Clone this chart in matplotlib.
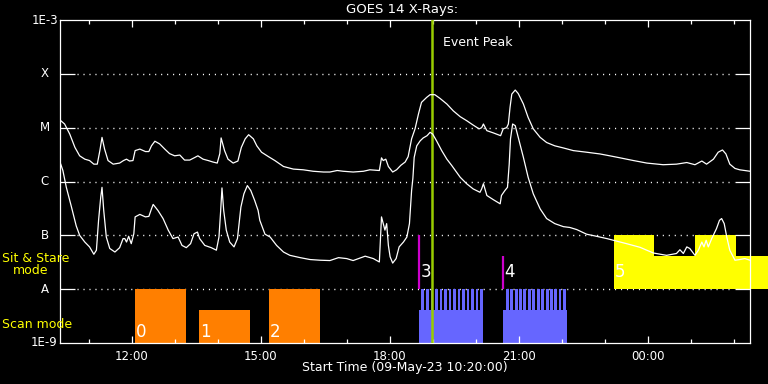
import matplotlib
matplotlib.use('Agg')
import matplotlib.pyplot as plt
from matplotlib import transforms
from matplotlib.ticker import FixedLocator, NullLocator

# time axis in hours since 09-May-23 00:00 (values > 24 are next day)
upper_t = [10.35, 10.44, 10.56, 10.68, 10.79, 10.91, 11.02, 11.12, 11.20, 11.26,
           11.31, 11.37, 11.45, 11.57, 11.72, 11.81, 11.88, 11.95, 12.03, 12.08,
           12.19, 12.32, 12.40, 12.46, 12.54, 12.65, 12.77, 12.88, 13.00, 13.12,
           13.23, 13.35, 13.47, 13.54, 13.66, 13.78, 13.89, 13.99, 14.05, 14.08,
           14.16, 14.24, 14.36, 14.47, 14.55, 14.64, 14.72, 14.83, 14.91, 15.02,
           15.18, 15.33, 15.53, 15.76, 15.99, 16.22, 16.46, 16.61, 16.78, 16.92,
           17.15, 17.39, 17.54, 17.76, 17.81, 17.85, 17.91, 17.97, 18.07, 18.16,
           18.26, 18.36, 18.43, 18.51, 18.59, 18.67, 18.74, 18.86, 18.94, 19.05,
           19.17, 19.33, 19.48, 19.64, 19.79, 19.94, 20.08, 20.14, 20.18, 20.26,
           20.41, 20.58, 20.64, 20.72, 20.76, 20.80, 20.84, 20.92, 20.99, 21.11,
           21.22, 21.34, 21.50, 21.65, 21.84, 22.04, 22.27, 22.58, 22.89, 23.12,
           23.36, 23.67, 23.98, 24.36, 24.67, 24.91, 25.10, 25.26, 25.37, 25.53,
           25.64, 25.74, 25.82, 25.91, 26.03, 26.14, 26.38]
upper_flux = [1.35e-5, 1.17e-5, 7.6e-6, 4.3e-6, 3.0e-6, 2.6e-6, 2.45e-6, 2.1e-6, 2.1e-6, 3.75e-6,
              6.6e-6, 4.0e-6, 2.45e-6, 2.1e-6, 2.2e-6, 2.45e-6, 2.6e-6, 2.4e-6, 2.45e-6, 3.75e-6,
              4.0e-6, 3.6e-6, 3.6e-6, 4.6e-6, 5.6e-6, 5.0e-6, 4.0e-6, 3.3e-6, 3.0e-6, 3.1e-6,
              2.5e-6, 2.5e-6, 2.8e-6, 3.0e-6, 2.6e-6, 2.45e-6, 2.3e-6, 2.2e-6, 3.3e-6, 6.45e-6,
              3.75e-6, 2.6e-6, 2.2e-6, 2.4e-6, 4.3e-6, 6.2e-6, 7.4e-6, 6.2e-6, 4.6e-6, 3.5e-6,
              2.9e-6, 2.45e-6, 1.9e-6, 1.7e-6, 1.65e-6, 1.55e-6, 1.5e-6, 1.5e-6, 1.6e-6, 1.55e-6,
              1.5e-6, 1.55e-6, 1.65e-6, 1.6e-6, 2.75e-6, 2.45e-6, 2.6e-6, 1.9e-6, 1.5e-6, 1.65e-6,
              2.0e-6, 2.3e-6, 2.9e-6, 6.2e-6, 9.5e-6, 1.8e-5, 2.95e-5, 3.65e-5, 4.1e-5, 4.1e-5,
              3.5e-5, 2.75e-5, 2.05e-5, 1.6e-5, 1.35e-5, 1.12e-5, 9.5e-6, 1.0e-5, 1.17e-5, 8.8e-6,
              8.0e-6, 7.1e-6, 9.5e-6, 1.0e-5, 1.17e-5, 2.4e-5, 4.2e-5, 5.0e-5, 4.3e-5, 2.75e-5,
              1.55e-5, 9.5e-6, 6.6e-6, 5.3e-6, 4.6e-6, 4.2e-6, 3.75e-6, 3.5e-6, 3.25e-6, 3.0e-6,
              2.75e-6, 2.45e-6, 2.2e-6, 2.05e-6, 2.1e-6, 2.25e-6, 2.05e-6, 2.4e-6, 2.1e-6, 2.6e-6,
              3.5e-6, 3.85e-6, 3.25e-6, 2.1e-6, 1.75e-6, 1.65e-6, 1.55e-6]

lower_t = [10.35, 10.40, 10.48, 10.60, 10.71, 10.79, 10.91, 11.02, 11.12, 11.18,
           11.23, 11.28, 11.31, 11.35, 11.41, 11.49, 11.61, 11.72, 11.80, 11.84,
           11.88, 11.93, 11.99, 12.05, 12.08, 12.19, 12.32, 12.40, 12.46, 12.50,
           12.61, 12.73, 12.85, 12.96, 13.08, 13.17, 13.27, 13.37, 13.45, 13.53,
           13.58, 13.70, 13.85, 13.97, 14.03, 14.07, 14.10, 14.14, 14.20, 14.28,
           14.38, 14.46, 14.54, 14.61, 14.69, 14.77, 14.86, 14.94, 14.98, 15.10,
           15.22, 15.37, 15.53, 15.68, 15.92, 16.15, 16.38, 16.61, 16.81, 17.00,
           17.15, 17.43, 17.62, 17.76, 17.81, 17.85, 17.89, 17.93, 17.97, 18.01,
           18.07, 18.15, 18.22, 18.32, 18.40, 18.46, 18.51, 18.54, 18.57, 18.63,
           18.71, 18.78, 18.87, 18.94, 19.00, 19.09, 19.21, 19.33, 19.44, 19.64,
           19.79, 19.94, 20.10, 20.14, 20.18, 20.26, 20.41, 20.57, 20.60, 20.68,
           20.74, 20.78, 20.81, 20.86, 20.92, 20.99, 21.11, 21.22, 21.34, 21.50,
           21.65, 21.84, 22.04, 22.19, 22.35, 22.58, 22.81, 23.05, 23.28, 23.51,
           23.82, 24.13, 24.44, 24.67, 24.75, 24.83, 24.91, 24.98, 25.10, 25.18,
           25.26, 25.31, 25.36, 25.41, 25.49, 25.60, 25.67, 25.72, 25.78, 25.84,
           25.91, 26.03, 26.14, 26.26, 26.38]
lower_flux = [2.1e-6, 1.6e-6, 7.8e-7, 3.35e-7, 1.5e-7, 1.0e-7, 7.5e-8, 6.1e-8, 4.45e-8, 5.3e-8,
              1.9e-7, 5.1e-7, 7.8e-7, 2.9e-7, 9.3e-8, 5.7e-8, 4.9e-8, 5.9e-8, 8.7e-8, 8.7e-8,
              7.5e-8, 9.6e-8, 7.0e-8, 1.07e-7, 2.2e-7, 2.45e-7, 2.2e-7, 2.25e-7, 3.1e-7, 3.75e-7,
              2.9e-7, 2.05e-7, 1.25e-7, 8.7e-8, 9.3e-8, 6.5e-8, 5.9e-8, 7.0e-8, 1.07e-7, 1.15e-7,
              8.7e-8, 6.5e-8, 5.9e-8, 5.3e-8, 9.3e-8, 2.9e-7, 7.6e-7, 2.9e-7, 1.25e-7, 7.5e-8,
              6.1e-8, 8.7e-8, 3.35e-7, 5.9e-7, 8.4e-7, 6.8e-7, 4.45e-7, 2.9e-7, 1.9e-7, 1.05e-7,
              9.3e-8, 6.5e-8, 4.9e-8, 4.25e-8, 3.85e-8, 3.55e-8, 3.45e-8, 3.4e-8, 3.85e-8, 3.7e-8,
              3.4e-8, 4.1e-8, 3.7e-8, 3.2e-8, 2.2e-7, 1.65e-7, 1.25e-7, 1.65e-7, 6.5e-8, 4.0e-8,
              3.05e-8, 3.7e-8, 6.1e-8, 7.5e-8, 9.3e-8, 1.65e-7, 6.8e-7, 1.15e-6, 2.8e-6, 4.6e-6,
              5.7e-6, 6.45e-6, 7.1e-6, 8.2e-6, 7.6e-6, 5.7e-6, 3.75e-6, 2.6e-6, 2.0e-6, 1.2e-6,
              9.1e-7, 7.3e-7, 6.3e-7, 7.3e-7, 9.1e-7, 5.5e-7, 4.6e-7, 3.85e-7, 5.5e-7, 6.8e-7,
              7.8e-7, 2.1e-6, 6.2e-6, 1.17e-5, 1.09e-5, 6.6e-6, 2.8e-6, 1.2e-6, 5.9e-7, 3.1e-7,
              2.05e-7, 1.65e-7, 1.45e-7, 1.4e-7, 1.28e-7, 1.05e-7, 9.6e-8, 8.7e-8, 7.8e-8, 7.0e-8,
              6.0e-8, 4.7e-8, 4.25e-8, 4.6e-8, 5.4e-8, 4.6e-8, 6.1e-8, 5.7e-8, 4.25e-8, 5.3e-8,
              7.5e-8, 6.1e-8, 8.1e-8, 6.1e-8, 8.7e-8, 1.33e-7, 1.9e-7, 2.05e-7, 1.65e-7, 9.3e-8,
              5.3e-8, 3.45e-8, 3.55e-8, 3.7e-8, 3.45e-8]

# scan mode rasters (orange), start/end hours and top level
scan_start = [12.08, 13.57, 15.19]
scan_end = [13.26, 14.75, 16.37]
scan_top = [1e-8, 4.1e-9, 1e-8]
scan_ids = ['0', '1', '2']

# scan mode during the flares (blue): block extent + individual raster steps
blue_start = [18.68, 20.64]
blue_end = [20.16, 22.12]
blue_base = 4.1e-9
blue_steps = [18.74, 18.85, 18.95, 19.05, 19.16, 19.26, 19.37, 19.47, 19.58, 19.68,
              19.79, 19.89, 20.00, 20.10,
              20.71, 20.81, 20.91, 21.01, 21.11, 21.22, 21.32, 21.42, 21.52, 21.63,
              21.73, 21.83, 21.93, 22.04]

# observation markers (magenta) with labels
mark_t = [18.68, 20.64]
mark_top = [1e-7, 4.1e-8]
mark_ids = ['3', '4']

# sit & stare (yellow) steps
ss_edges = [23.22, 24.15, 25.10, 26.05, 26.80]
ss_top = [1e-7, 4.1e-8, 1e-7, 4.1e-8]

peak_t = 18.98

levels = [1e-9, 1e-8, 1e-7, 1e-6, 1e-5, 1e-4, 1e-3]
level_names = ['1E-9', 'A', 'B', 'C', 'M', 'X', '1E-3']
major_hours = [12, 15, 18, 21, 24]
major_labels = ['12:00', '15:00', '18:00', '21:00', '00:00']
minor_hours = list(range(11, 27))

W, H = 768, 384
plt.rcParams['font.family'] = 'DejaVu Sans'

fig = plt.figure(figsize=(W / 100, H / 100), dpi=100, facecolor='black')
ax = fig.add_axes([60 / W, 41 / H, 690 / W, 323 / H], facecolor='black')
ax.set_yscale('log')
ax.set_xlim(10.333, 26.38)
ax.set_ylim(1e-9, 1e-3)

for s in ax.spines.values():
    s.set_color('white')
    s.set_linewidth(0.9)

# dotted class levels
for lv in levels[1:-1]:
    ax.axhline(lv, xmin=17 / 690, xmax=1 - 16 / 690, color='white', lw=1.0,
               dashes=(0.8, 3.5), zorder=0.5)

# yellow sit & stare block (runs past the right edge like the original)
for i in range(len(ss_top)):
    ax.bar(ss_edges[i], ss_top[i] - 1e-8, width=ss_edges[i + 1] - ss_edges[i],
           bottom=1e-8, align='edge', color='#ffff00', lw=0, clip_on=False, zorder=1)

# orange scan blocks
for i in range(len(scan_start)):
    ax.bar(scan_start[i], scan_top[i] - 1e-9, width=scan_end[i] - scan_start[i],
           bottom=1e-9, align='edge', color='#ff7f00', lw=0, zorder=1)
    ax.text(scan_start[i] + 0.02, 1.6e-9, scan_ids[i], color='white', fontsize=12,
            va='center', ha='left', zorder=5)

# blue blocks
for i in range(len(blue_start)):
    ax.bar(blue_start[i], blue_base - 1e-9, width=blue_end[i] - blue_start[i],
           bottom=1e-9, align='edge', color='#6666ff', lw=0, zorder=1)
ax.bar(blue_steps, [1e-8 - 1e-9] * len(blue_steps), width=0.065, bottom=1e-9,
       align='edge', color='#6666ff', lw=0, zorder=1)

for i in range(len(mark_t)):
    ax.vlines(mark_t[i], 1e-8, mark_top[i], color='#cc00cc', lw=1.6, zorder=3)
    ax.text(mark_t[i] + 0.03, 2.1e-8, mark_ids[i], color='white', fontsize=12,
            va='center', ha='left', zorder=5)
ax.text(ss_edges[0] + 0.01, 2.1e-8, '5', color='white', fontsize=12,
        va='center', ha='left', zorder=5)

ax.axvline(peak_t, color='#99cc00', lw=1.8, zorder=3)

ax.plot(upper_t, upper_flux, color='white', lw=0.9, zorder=4)
ax.plot(lower_t, lower_flux, color='white', lw=0.9, zorder=4)

# ticks
ax.xaxis.set_major_locator(FixedLocator(major_hours))
ax.xaxis.set_minor_locator(FixedLocator(minor_hours))
ax.set_xticklabels(major_labels)
ax.tick_params(axis='x', which='major', direction='in', length=5, width=0.9,
               colors='white', top=True, bottom=True, labelsize=8.5, pad=5)
ax.tick_params(axis='x', which='minor', direction='in', length=2.6, width=0.9,
               colors='white', top=True, bottom=True)
ax.yaxis.set_major_locator(FixedLocator(levels[1:-1]))
ax.yaxis.set_minor_locator(NullLocator())
ax.tick_params(axis='y', which='major', direction='in', length=10.8, width=0.9,
               colors='white', left=True, right=True, labelleft=False)

lab_tr = transforms.blended_transform_factory(fig.transFigure, ax.transData)
for lv, name in zip(levels, level_names):
    ax.text(44.5 / W, lv, name, transform=lab_tr, color='white', fontsize=8.5,
            ha='center', va='center')

fig.text(2 / W, 1 - 258 / H, 'Sit & Stare', color='#ffff00', fontsize=9, va='center')
fig.text(13 / W, 1 - 271 / H, 'mode', color='#ffff00', fontsize=9, va='center')
fig.text(2 / W, 1 - 324 / H, 'Scan mode', color='#ffff00', fontsize=9, va='center')

fig.text(402 / W, 1 - 10 / H, 'GOES 14 X-Rays:', color='white', fontsize=9.5,
         ha='center', va='center')
fig.text(443 / W, 1 - 43 / H, 'Event Peak', color='white', fontsize=9,
         ha='left', va='center')
fig.text(405 / W, 1 - 368 / H, 'Start Time (09-May-23 10:20:00)', color='white',
         fontsize=9, ha='center', va='center')

fig.savefig('out.png', dpi=100, facecolor='black')
